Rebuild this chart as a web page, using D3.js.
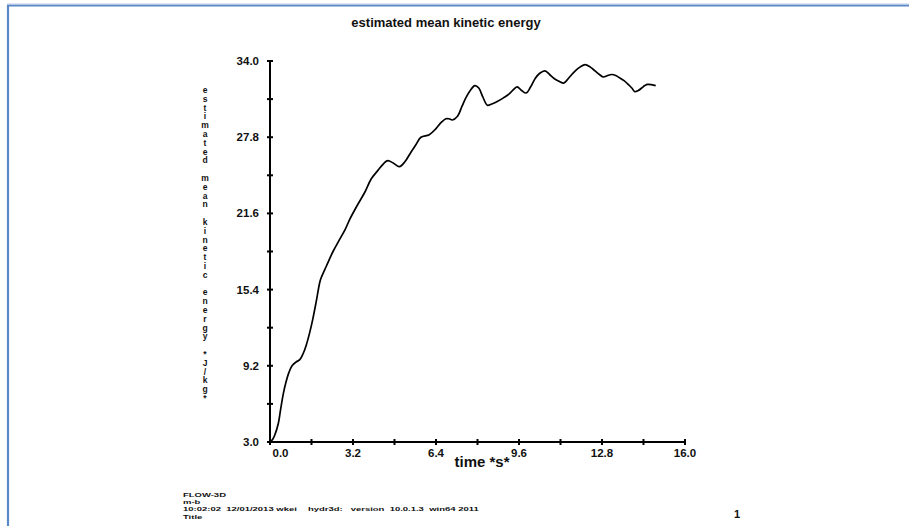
<!DOCTYPE html>
<html>
<head>
<meta charset="utf-8">
<script src="https://cdn.jsdelivr.net/npm/d3@7"></script>
<style>
  html, body { margin: 0; padding: 0; background: #fff; }
  svg { display: block; font-family: "Liberation Sans", Arial, sans-serif; }
</style>
</head>
<body>
<svg id="chart" width="909" height="526"></svg>
<script>
// ---- data ----
const timeValues = [0.00,0.10,0.19,0.32,0.42,0.52,0.62,0.72,0.85,1.00,1.15,1.28,1.40,1.53,1.65,1.78,1.92,1.98,2.17,2.43,2.69,2.90,3.07,3.35,3.65,3.90,4.16,4.40,4.54,4.75,4.99,5.20,5.44,5.63,5.82,6.14,6.40,6.60,6.78,6.90,7.03,7.23,7.40,7.55,7.72,7.90,8.05,8.20,8.38,8.55,8.76,9.00,9.21,9.40,9.53,9.70,9.88,10.05,10.23,10.40,10.60,10.78,10.94,11.10,11.32,11.55,11.77,11.95,12.15,12.35,12.53,12.70,12.86,13.00,13.17,13.35,13.50,13.65,13.81,13.95,14.07,14.20,14.33,14.45,14.56,14.87];
const energyValues = [3.0,3.2,3.6,4.5,5.8,7.0,7.9,8.6,9.2,9.5,9.7,10.2,10.9,11.9,13.0,14.4,16.0,16.4,17.3,18.5,19.5,20.3,21.1,22.2,23.3,24.4,25.1,25.7,25.9,25.7,25.4,25.8,26.6,27.2,27.8,28.0,28.5,29.0,29.3,29.3,29.2,29.5,30.3,31.0,31.6,32.0,31.8,31.1,30.4,30.5,30.7,31.0,31.3,31.7,31.9,31.6,31.4,31.9,32.6,33.0,33.2,32.9,32.6,32.4,32.2,32.7,33.2,33.5,33.7,33.5,33.2,32.9,32.7,32.8,32.9,32.8,32.6,32.4,32.1,31.8,31.5,31.6,31.8,32.0,32.1,32.0];
const xMajorTicks = [0.0, 3.2, 6.4, 9.6, 12.8, 16.0];
const xMinorTicks = [1.6, 4.8, 8.0, 11.2, 14.4];
const yMajorTicks = [3.0, 9.2, 15.4, 21.6, 27.8, 34.0];
const yMinorTicks = [6.1, 12.3, 18.5, 24.7, 30.9];
const titleText = "estimated mean kinetic energy";
const yLabelText = "estimated mean kinetic energy *J/kg*";
const xLabelText = "time *s*";
const footerLines = ["FLOW-3D", "m-b", "10:02:02  12/01/2013 wkei", "Title"];
const footerRight = "hydr3d:   version  10.0.1.3  win64 2011";
const pageNumber = "1";

// ---- drawing ----
const svg = d3.select("#chart");
const x = d3.scaleLinear().domain([0, 16]).range([270, 685]);
const y = d3.scaleLinear().domain([3, 34]).range([442, 61]);

// frame (blue border left & top)
svg.append("line").attr("x1", 8).attr("x2", 8).attr("y1", 5).attr("y2", 526)
  .attr("stroke", "#5b88c6").attr("stroke-width", 2.2);
svg.append("line").attr("x1", 7).attr("x2", 909).attr("y1", 5.5).attr("y2", 5.5)
  .attr("stroke", "#5b88c6").attr("stroke-width", 2);
svg.append("line").attr("x1", 7).attr("x2", 909).attr("y1", 4).attr("y2", 4)
  .attr("stroke", "#b8cbe6").attr("stroke-width", 1);

// title
svg.append("text").attr("x", 446).attr("y", 27).attr("text-anchor", "middle")
  .attr("font-size", 13).attr("font-weight", "bold").attr("fill", "#111").text(titleText);

// axes
const ax = svg.append("g").attr("stroke", "#000").attr("stroke-width", 2);
ax.append("line").attr("x1", x(0)).attr("x2", x(0)).attr("y1", y(34)).attr("y2", y(3));
ax.append("line").attr("x1", x(0)).attr("x2", x(16)).attr("y1", y(3)).attr("y2", y(3));

const yTicks = yMajorTicks.concat(yMinorTicks);
ax.selectAll(".yt").data(yTicks).enter().append("line")
  .attr("x1", x(0) - 3).attr("x2", x(0) + 3)
  .attr("y1", d => y(d)).attr("y2", d => y(d));
const xTicks = xMajorTicks.concat(xMinorTicks);
ax.selectAll(".xt").data(xTicks).enter().append("line")
  .attr("x1", d => x(d)).attr("x2", d => x(d))
  .attr("y1", y(3) - 3).attr("y2", y(3) + 3);

svg.selectAll(".ylab").data(yMajorTicks).enter().append("text")
  .attr("x", x(0) - 11).attr("y", d => y(d) + 4)
  .attr("text-anchor", "end").attr("font-size", 11.5).attr("font-weight", "bold")
  .attr("fill", "#111").text(d => d.toFixed(1));
svg.selectAll(".xlab").data(xMajorTicks).enter().append("text")
  .attr("x", (d, i) => i === 0 ? x(d) + 2.5 : x(d))
  .attr("y", y(3) + 15)
  .attr("text-anchor", (d, i) => i === 0 ? "start" : "middle")
  .attr("font-size", 11.5).attr("font-weight", "bold")
  .attr("fill", "#111").text(d => d.toFixed(1));

// x label
svg.append("text").attr("x", 482).attr("y", 467).attr("text-anchor", "middle")
  .attr("font-size", 15).attr("font-weight", "bold").attr("fill", "#111").text(xLabelText);

// y label stacked characters
const yl = svg.append("text").attr("font-size", 8.5).attr("font-weight", "bold")
  .attr("fill", "#111").attr("text-anchor", "middle");
yLabelText.split("").forEach((ch, i) => {
  yl.append("tspan").attr("x", 205).attr("y", 93 + i * 8.8).text(ch === " " ? "\u00a0" : ch);
});

// curve
const data = timeValues.map((t, i) => [t, energyValues[i]]);
svg.append("path").datum(data)
  .attr("fill", "none").attr("stroke", "#000").attr("stroke-width", 1.7)
  .attr("stroke-linejoin", "round")
  .attr("d", d3.line().x(d => x(d[0])).y(d => y(d[1])).curve(d3.curveCatmullRom.alpha(0.5)));

// footer (vertically compressed, as in the reference)
const sy = 0.66;
const ft = svg.append("g").attr("transform", `translate(183,0) scale(1,${sy})`)
  .attr("font-size", 9.5).attr("font-weight", "bold").attr("fill", "#111");
footerLines.forEach((s, i) => {
  ft.append("text").attr("x", 0).attr("y", (497 + i * 7.2) / sy).attr("xml:space", "preserve").text(s);
});
ft.append("text").attr("x", 125).attr("y", (497 + 2 * 7.2) / sy).attr("xml:space", "preserve").text(footerRight);
svg.append("text").attr("x", 737).attr("y", 518).attr("text-anchor", "middle")
  .attr("font-size", 11).attr("font-weight", "bold").attr("fill", "#111").text(pageNumber);
</script>
</body>
</html>
